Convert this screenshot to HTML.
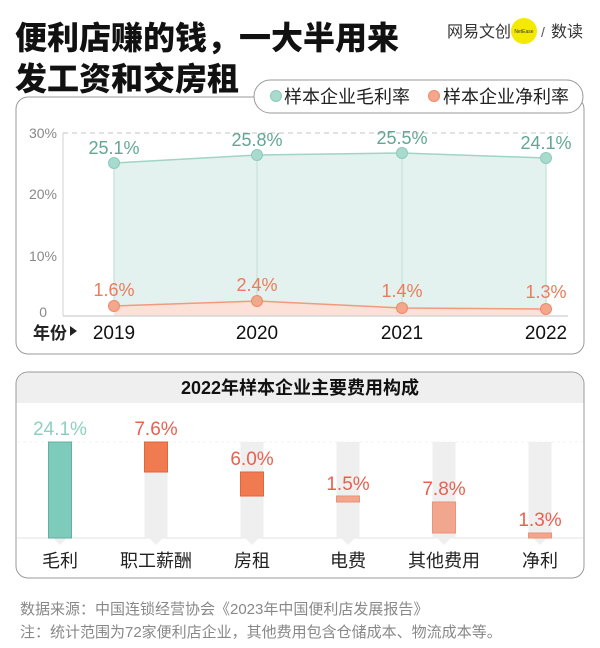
<!DOCTYPE html>
<html><head><meta charset="utf-8"><style>
html,body{margin:0;padding:0;background:#fff;}
svg{display:block;}
text{font-family:"Liberation Sans","Noto Sans CJK SC",sans-serif;}
</style></head><body>
<svg width="600" height="648" viewBox="0 0 600 648" xmlns="http://www.w3.org/2000/svg">
<rect width="600" height="648" fill="#fff"/>
<!-- Title -->
<text x="15" y="49" font-size="32" font-weight="900" fill="#111">便利店赚的钱，一大半用来</text>
<text x="15" y="90" font-size="32" font-weight="900" fill="#111">发工资和交房租</text>
<!-- Logo -->
<circle cx="524" cy="31" r="13" fill="#f4ea00"/>
<text x="447" y="37" font-size="16" fill="#333">网易文创</text>
<text x="524" y="33" font-size="5" text-anchor="middle" fill="#333">NetEase</text>
<text x="541" y="37" font-size="14" fill="#555">/</text>
<text x="551" y="37" font-size="16" fill="#333">数读</text>

<!-- Top panel -->
<rect x="16" y="97" width="568" height="257" rx="12" fill="#fff" stroke="#9a9a9a" stroke-width="1"/>
<!-- legend pill -->
<rect x="254" y="80" width="329" height="33" rx="16.5" fill="#fff" stroke="#9a9a9a" stroke-width="1"/>
<circle cx="276" cy="96" r="5.5" fill="#a9dace" stroke="#8ccbbb" stroke-width="1"/>
<text x="284" y="103" font-size="18" fill="#222">样本企业毛利率</text>
<circle cx="434" cy="96" r="5.5" fill="#f6a68c" stroke="#ec8b6c" stroke-width="1"/>
<text x="443" y="103" font-size="18" fill="#222">样本企业净利率</text>

<!-- axes -->
<line x1="63" y1="133" x2="568" y2="133" stroke="#c4c4c4" stroke-width="1" stroke-dasharray="5 4"/>
<line x1="63" y1="133" x2="63" y2="316" stroke="#d0d0d0" stroke-width="1"/>
<text x="57" y="138" font-size="14" fill="#888" text-anchor="end">30%</text>
<text x="57" y="199" font-size="14" fill="#888" text-anchor="end">20%</text>
<text x="57" y="261" font-size="14" fill="#888" text-anchor="end">10%</text>
<text x="47" y="317" font-size="14" fill="#888" text-anchor="end">0</text>

<!-- gross area -->
<polygon points="114,163 257,155 402,153 546,158 546,316 114,316" fill="#e3f2ee"/>
<polygon points="114,306 257,301 402,308 546,309 546,316 114,316" fill="#fbe1d8"/>
<g stroke="#cfe5df" stroke-width="1.5">
<line x1="114" y1="163" x2="114" y2="306"/>
<line x1="257" y1="155" x2="257" y2="301"/>
<line x1="402" y1="153" x2="402" y2="308"/>
<line x1="546" y1="158" x2="546" y2="309"/>
</g>
<line x1="63" y1="316" x2="568" y2="316" stroke="#d6d6d6" stroke-width="1.5"/>
<polyline points="114,163 257,155 402,153 546,158" fill="none" stroke="#9fd4c6" stroke-width="1.5"/>
<polyline points="114,306 257,301 402,308 546,309" fill="none" stroke="#f29a7d" stroke-width="1.5"/>
<g fill="#a9dace" stroke="#8ccbbb" stroke-width="1">
<circle cx="114" cy="163" r="5.5"/><circle cx="257" cy="155" r="5.5"/><circle cx="402" cy="153" r="5.5"/><circle cx="546" cy="158" r="5.5"/>
</g>
<g fill="#f6a68c" stroke="#ec8b6c" stroke-width="1">
<circle cx="114" cy="306" r="5.5"/><circle cx="257" cy="301" r="5.5"/><circle cx="402" cy="308" r="5.5"/><circle cx="546" cy="309" r="5.5"/>
</g>
<g font-size="18" fill="#62a794" text-anchor="middle">
<text x="114" y="154">25.1%</text>
<text x="257" y="146">25.8%</text>
<text x="402" y="144">25.5%</text>
<text x="546" y="149">24.1%</text>
</g>
<g font-size="18" fill="#ee7a5b" text-anchor="middle">
<text x="114" y="296">1.6%</text>
<text x="257" y="291">2.4%</text>
<text x="402" y="297">1.4%</text>
<text x="546" y="298">1.3%</text>
</g>
<text x="33" y="339" font-size="17" font-weight="bold" fill="#222">年份</text>
<polygon points="70,326 77,331 70,336" fill="#222"/>
<g font-size="19" fill="#111" text-anchor="middle">
<text x="114" y="339">2019</text>
<text x="257" y="339">2020</text>
<text x="402" y="339">2021</text>
<text x="546" y="339">2022</text>
</g>

<!-- Bottom panel -->
<rect x="16" y="372" width="568" height="206" rx="12" fill="#fff" stroke="#9a9a9a" stroke-width="1"/>
<path d="M16.5,403 L16.5,384 A11.5,11.5 0 0 1 28,372.5 L572,372.5 A11.5,11.5 0 0 1 583.5,384 L583.5,403 Z" fill="#efefef"/>
<text x="300" y="394" font-size="18" font-weight="bold" fill="#111" text-anchor="middle">2022年样本企业主要费用构成</text>
<line x1="17" y1="442" x2="583" y2="442" stroke="#f0f0f0" stroke-width="1" stroke-dasharray="3 3"/>
<line x1="17" y1="538" x2="583" y2="538" stroke="#e2e2e2" stroke-width="1"/>
<!-- gray columns -->
<g fill="#efefef">
<rect x="48.5" y="442" width="23" height="96"/><polygon points="53,538 67,538 60,545"/>
<rect x="144.5" y="442" width="23" height="96"/><polygon points="149,538 163,538 156,545"/>
<rect x="240.5" y="442" width="23" height="96"/><polygon points="245,538 259,538 252,545"/>
<rect x="336.5" y="442" width="23" height="96"/><polygon points="341,538 355,538 348,545"/>
<rect x="432.5" y="442" width="23" height="96"/><polygon points="437,538 451,538 444,545"/>
<rect x="528.5" y="442" width="23" height="96"/><polygon points="533,538 547,538 540,545"/>
</g>
<rect x="48.5" y="442" width="23" height="96" fill="#7fcbbb" stroke="#5fb2a1" stroke-width="1"/>
<rect x="144.5" y="442" width="23" height="30" fill="#f07b51" stroke="#e0663e" stroke-width="1"/>
<rect x="240.5" y="472" width="23" height="24" fill="#f07b51" stroke="#e0663e" stroke-width="1"/>
<rect x="336.5" y="496" width="23" height="6" fill="#f2a68d" stroke="#e99378" stroke-width="1"/>
<rect x="432.5" y="502" width="23" height="31" fill="#f2a68d" stroke="#e99378" stroke-width="1"/>
<rect x="528.5" y="533" width="23" height="5" fill="#f2a68d" stroke="#e99378" stroke-width="1"/>
<g font-size="19" text-anchor="middle">
<text x="60" y="435" fill="#8dd0c1">24.1%</text>
<text x="156" y="435" fill="#e8604f">7.6%</text>
<text x="252" y="465" fill="#e8604f">6.0%</text>
<text x="348" y="490" fill="#e8604f">1.5%</text>
<text x="444" y="495" fill="#e8604f">7.8%</text>
<text x="540" y="526" fill="#e8604f">1.3%</text>
</g>
<g font-size="18" fill="#222" text-anchor="middle">
<text x="60" y="567">毛利</text>
<text x="156" y="567">职工薪酬</text>
<text x="252" y="567">房租</text>
<text x="348" y="567">电费</text>
<text x="444" y="567">其他费用</text>
<text x="540" y="567">净利</text>
</g>

<!-- footer -->
<text x="20" y="614" font-size="15" fill="#888">数据来源：中国连锁经营协会《2023年中国便利店发展报告》</text>
<text x="20" y="637" font-size="15" fill="#888">注：统计范围为72家便利店企业，其他费用包含仓储成本、物流成本等。</text>
</svg>
</body></html>
